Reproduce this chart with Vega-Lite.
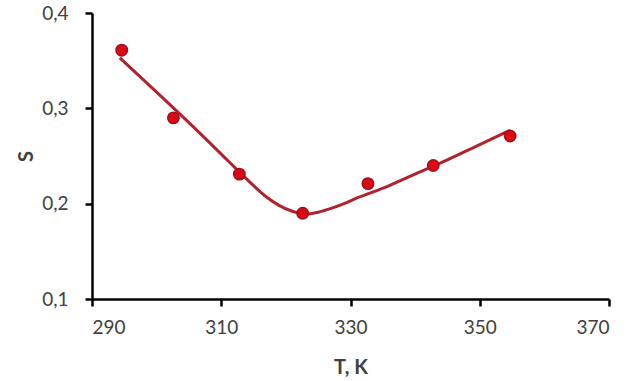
{
  "$schema": "https://vega.github.io/schema/vega-lite/v6.json",
  "width": 517,
  "height": 286,
  "autosize": {"type": "none"},
  "padding": {"left": 92, "top": 13, "right": 29, "bottom": 82},
  "background": "white",
  "config": {
    "view": {"stroke": null},
    "font": "Lato",
    "axis": {
      "grid": false,
      "domainColor": "#000000",
      "domainWidth": 2.5,
      "tickColor": "#000000",
      "tickWidth": 2.5,
      "tickSize": 7,
      "labelFont": "Lato",
      "labelFontSize": 19,
      "labelColor": "#404040",
      "titleFont": "Lato",
      "titleFontSize": 20,
      "titleFontWeight": "bold",
      "titleColor": "#404040"
    }
  },
  "datasets": {
    "measured": [
      {"T": 294.6, "S": 0.361},
      {"T": 302.6, "S": 0.290},
      {"T": 312.8, "S": 0.231},
      {"T": 322.6, "S": 0.190},
      {"T": 332.7, "S": 0.221},
      {"T": 342.8, "S": 0.240},
      {"T": 354.7, "S": 0.271}
    ],
    "fit": [
      {"T": 294.3, "S": 0.353},
      {"T": 300, "S": 0.317},
      {"T": 305, "S": 0.285},
      {"T": 310, "S": 0.252},
      {"T": 313, "S": 0.232},
      {"T": 315, "S": 0.219},
      {"T": 317, "S": 0.207},
      {"T": 319, "S": 0.198},
      {"T": 321, "S": 0.192},
      {"T": 323, "S": 0.189},
      {"T": 325, "S": 0.191},
      {"T": 327, "S": 0.195},
      {"T": 329, "S": 0.200},
      {"T": 331, "S": 0.206},
      {"T": 333, "S": 0.211},
      {"T": 336, "S": 0.219},
      {"T": 340, "S": 0.231},
      {"T": 345, "S": 0.246},
      {"T": 350, "S": 0.262},
      {"T": 354.7, "S": 0.277}
    ]
  },
  "encoding": {
    "x": {
      "field": "T",
      "type": "quantitative",
      "scale": {"domain": [290, 370], "nice": false, "zero": false},
      "axis": {
        "title": "T, K",
        "values": [290, 310, 330, 350, 370],
        "labelPadding": 12,
        "titlePadding": 20
      }
    },
    "y": {
      "field": "S",
      "type": "quantitative",
      "scale": {"domain": [0.1, 0.4], "nice": false, "zero": false},
      "axis": {
        "title": "S",
        "values": [0.1, 0.2, 0.3, 0.4],
        "labelExpr": "replace(format(datum.value, '.1f'), '.', ',')",
        "labelPadding": 17,
        "titlePadding": 5
      }
    }
  },
  "layer": [
    {
      "data": {"name": "fit"},
      "mark": {"type": "line", "interpolate": "monotone", "color": "#b0222e", "strokeWidth": 3}
    },
    {
      "data": {"name": "measured"},
      "mark": {"type": "point", "shape": "circle", "filled": true, "size": 130, "fill": "#dc0a14", "stroke": "#a0101a", "strokeWidth": 1.5, "opacity": 1}
    }
  ]
}
